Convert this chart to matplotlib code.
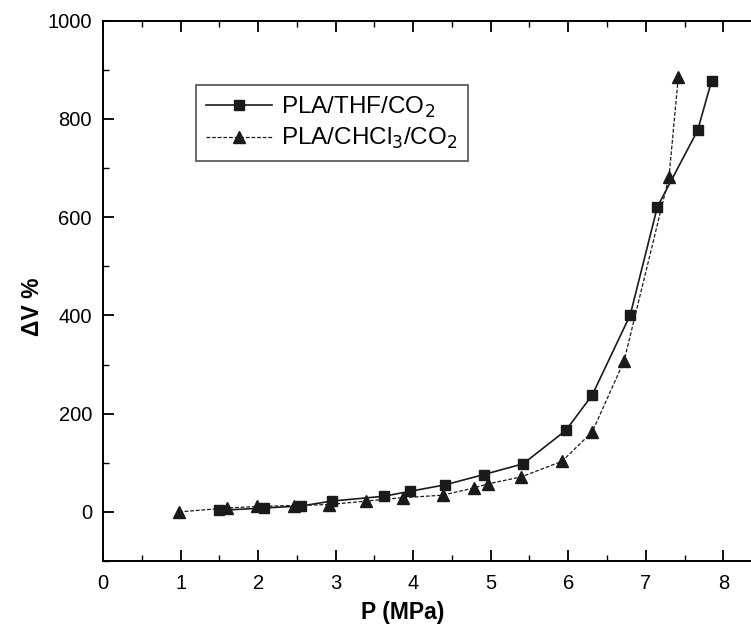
import matplotlib
matplotlib.use("Agg")
import matplotlib.pyplot as plt
from matplotlib.ticker import MultipleLocator

plt.rcParams["font.family"] = ["Liberation Sans", "DejaVu Sans"]

# PLA/THF/CO2 (Quadrate)
thf_p = [1.49, 2.08, 2.55, 2.95, 3.63, 3.96, 4.41, 4.91, 5.42, 5.97, 6.31, 6.80, 7.15, 7.67, 7.85]
thf_dv = [3, 8, 12, 22, 32, 42, 55, 76, 98, 166, 238, 401, 621, 777, 878]

# PLA/CHCl3/CO2 (Dreiecke)
chcl3_p = [0.98, 1.60, 1.99, 2.46, 2.92, 3.39, 3.87, 4.38, 4.79, 4.96, 5.39, 5.92, 6.31, 6.72, 7.30, 7.42]
chcl3_dv = [0, 8, 11, 13, 15, 22, 29, 34, 49, 57, 71, 103, 163, 307, 682, 885]

fig = plt.figure(figsize=(7.51, 6.31), dpi=100)
ax = fig.add_axes([0.1372, 0.1109, 0.8775, 0.8563])

ax.plot(thf_p, thf_dv, color="#1a1a1a", linewidth=1.2, linestyle="-",
        marker="s", markersize=7.5, label="PLA/THF/CO$_2$")
ax.plot(chcl3_p, chcl3_dv, color="#1a1a1a", linewidth=0.9, linestyle=(0, (3, 1.5)),
        marker="^", markersize=9, label="PLA/CHCl$_3$/CO$_2$")

ax.set_xlim(0, 8.5)
ax.set_ylim(-100, 1000)

ax.xaxis.set_major_locator(MultipleLocator(1))
ax.xaxis.set_minor_locator(MultipleLocator(0.5))
ax.yaxis.set_major_locator(MultipleLocator(200))
ax.yaxis.set_minor_locator(MultipleLocator(100))

ax.tick_params(which="both", direction="in", top=True, right=False, labelsize=14.5)
ax.tick_params(axis="x", which="major", pad=9)
ax.tick_params(axis="y", which="major", pad=8)
ax.tick_params(which="major", length=8, width=1.3)
ax.tick_params(which="minor", length=4, width=1.0)

for s in ax.spines.values():
    s.set_linewidth(1.4)
ax.spines["right"].set_visible(False)

ax.set_xlabel("P (MPa)", fontsize=16.5, fontweight="bold")
ax.set_ylabel("ΔV %", fontsize=16.5, fontweight="bold")
ax.xaxis.set_label_coords(0.455, -0.074)
ax.yaxis.set_label_coords(-0.09, 0.47)

leg = ax.legend(loc="upper left", bbox_to_anchor=(0.123, 0.903), fontsize=17.5,
                frameon=True, fancybox=False, edgecolor="#222222",
                handlelength=2.7, handletextpad=0.4, borderpad=0.4,
                labelspacing=0.25)
leg.get_frame().set_linewidth(1.2)

fig.savefig("out.png", dpi=100)
